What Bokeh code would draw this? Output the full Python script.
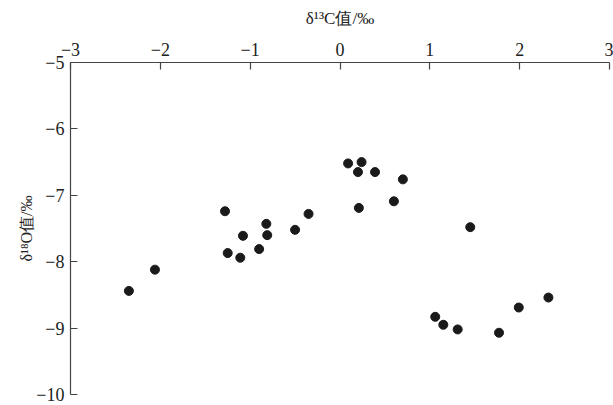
from bokeh.plotting import figure
from bokeh.models import Range1d, FixedTicker, ColumnDataSource
from bokeh.embed import file_html
from bokeh.resources import INLINE

# data
d13c = [-2.35, -2.06, -1.28, -1.25, -1.11, -1.08, -0.90, -0.82, -0.81, -0.50, -0.35,
        0.09, 0.20, 0.24, 0.21, 0.39, 0.60, 0.70, 1.45, 1.06, 1.15, 1.31, 1.77, 1.99, 2.32]
d18o = [-8.44, -8.12, -7.24, -7.87, -7.94, -7.61, -7.81, -7.43, -7.60, -7.52, -7.28,
        -6.52, -6.65, -6.50, -7.19, -6.65, -7.09, -6.76, -7.48, -8.83, -8.95, -9.02,
        -9.07, -8.69, -8.54]

x_ticks = [-3, -2, -1, 0, 1, 2, 3]
y_ticks = [-10, -9, -8, -7, -6, -5]
x_title = "δ¹³C值/‰"
y_title = "δ¹⁸O值/‰"

FONT = "Liberation Serif"
AXIS_COLOR = "#444444"


def lab(v):
    return ("\u2212" + str(abs(v))) if v < 0 else str(v)


src = ColumnDataSource(dict(x=d13c, y=d18o))

p = figure(width=613, height=405, output_backend="svg", toolbar_location=None,
           x_range=Range1d(-3, 3), y_range=Range1d(-10, -5),
           x_axis_location="above", y_axis_location="left",
           min_border_left=70, min_border_top=62, min_border_right=4,
           min_border_bottom=11, background_fill_color="white",
           border_fill_color="white")
p.outline_line_color = None
p.xgrid.visible = False
p.ygrid.visible = False

p.scatter("x", "y", source=src, size=9, fill_color="#1a1a1a",
          line_color="#1a1a1a")

xa = p.xaxis[0]
xa.ticker = FixedTicker(ticks=x_ticks, minor_ticks=[])
xa.major_label_overrides = {v: lab(v) for v in x_ticks}
xa.axis_label = x_title

ya = p.yaxis[0]
ya.ticker = FixedTicker(ticks=y_ticks, minor_ticks=[])
ya.major_label_overrides = {v: lab(v) for v in y_ticks}
ya.axis_label = y_title

for ax in (xa, ya):
    ax.axis_line_color = AXIS_COLOR
    ax.axis_line_width = 1.2
    ax.major_tick_line_color = AXIS_COLOR
    ax.major_tick_line_width = 1.2
    ax.major_tick_in = 7
    ax.major_tick_out = 0
    ax.minor_tick_in = 0
    ax.minor_tick_out = 0
    ax.major_label_text_font = FONT
    ax.major_label_text_font_size = "18px"
    ax.major_label_text_color = "#222222"
    ax.axis_label_text_font = FONT
    ax.axis_label_text_font_style = "normal"
    ax.axis_label_text_color = "#222222"

xa.axis_label_text_font_size = "17px"
ya.axis_label_text_font_size = "16px"
xa.major_label_standoff = 7
xa.axis_label_standoff = 12
ya.major_label_standoff = 6
ya.axis_label_standoff = -2

open("out.html", "w").write(file_html(p, INLINE))
